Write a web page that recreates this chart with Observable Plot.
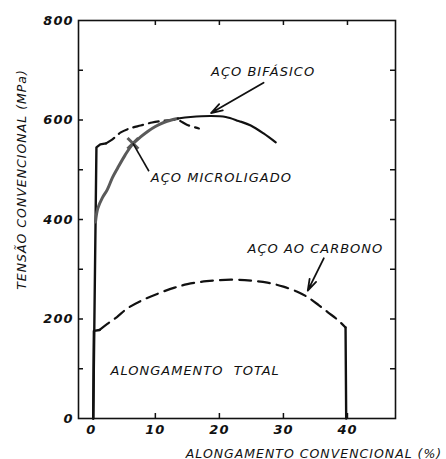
<!DOCTYPE html>
<html><head><meta charset="utf-8">
<script src="https://cdn.jsdelivr.net/npm/d3@7"></script>
<script src="https://cdn.jsdelivr.net/npm/@observablehq/plot@0.6"></script>
<style>body{margin:0;background:#fff} #chart svg{display:block}</style>
</head><body><div id="chart"></div>
<script>
// tick values
const xTicks = [0, 10, 20, 30, 40];
const yTicks = [0, 200, 400, 600, 800];
const xInner = [10, 20, 30, 40];
const yInner = [100, 200, 300, 400, 500, 600, 700];
const xDomain = [-2, 47.5];
const yDomain = [0, 800];

// Aço ao carbono
const carbonSolidStart = [[0.3, 0], [0.4, 176], [1.3, 178]];
const carbonDashed = [[1.3, 178], [2.5, 190], [4, 204], [5.7, 222], [8, 238], [10.4, 251], [13, 263], [15, 270], [18, 276], [21.8, 279], [25, 277], [27.5, 273], [30, 265], [32.5, 253], [34, 242], [35.5, 228], [37, 213], [38.5, 198], [39.7, 183]];
const carbonSolidEnd = [[39.7, 183], [39.8, 0]];

// curva com patamar de escoamento (tracejada)
const yieldSolid = [[0.3, 0], [0.8, 545], [1.4, 551], [2.3, 553]];
const yieldDashed = [[2.3, 553], [3.3, 561], [4.6, 575], [6, 583], [7.7, 589], [9.5, 595], [11, 598], [12.5, 600], [13.5, 600], [15, 590], [16.8, 583]];

// curva cinza contínua
const grayCurve = [[0.65, 395], [1.0, 422], [1.7, 443], [2.5, 460], [3.3, 484], [4.1, 503], [5.3, 530], [6.5, 552], [7.7, 566], [8.8, 577], [10, 587], [11.3, 595], [12.5, 600], [13.5, 603]];

// curva preta contínua (aço bifásico)
const blackCurve = [[13.5, 603], [15.5, 606], [18.7, 608], [21, 606], [23, 598], [24.9, 589], [26.9, 573], [28.8, 555]];

// marcador e anotações
const marker = [[6.5, 553]];
const labels = ["AÇO BIFÁSICO", "AÇO MICROLIGADO", "AÇO AO CARBONO", "ALONGAMENTO  TOTAL"];
const labelX = [18.7, 9.3, 24.4, 3.0];
const labelY = [697, 484, 342, 96];
const arrowFrom = [[26.9, 675], [36.3, 322]];
const arrowTo = [[18.7, 614], [33.8, 257]];
const leaderFrom = [[6.5, 553]];
const leaderTo = [[9, 497]];
const yTitle = "TENSÃO CONVENCIONAL (MPa)";
const xTitle = "ALONGAMENTO CONVENCIONAL (%)";

const annot = labels.map((t, i) => ({t, x: labelX[i], y: labelY[i]}));
const arrows = arrowFrom.map((a, i) => ({x1: a[0], y1: a[1], x2: arrowTo[i][0], y2: arrowTo[i][1]}));
const leaders = leaderFrom.map((a, i) => ({x1: a[0], y1: a[1], x2: leaderTo[i][0], y2: leaderTo[i][1]}));

const W = 446, H = 459, mL = 78, mR = 51, mT = 20, mB = 41, tickPx = 5;
const tx = tickPx * (xDomain[1] - xDomain[0]) / (W - mL - mR);
const ty = tickPx * (yDomain[1] - yDomain[0]) / (H - mT - mB);

const ink = "#111";
const chart = Plot.plot({
  width: W,
  height: H,
  marginLeft: mL,
  marginRight: mR,
  marginTop: mT,
  marginBottom: mB,
  style: "font: italic 13px 'DejaVu Sans'; letter-spacing: 1px; color: #111; background: #fff",
  x: {domain: xDomain},
  y: {domain: yDomain},
  marks: [
    Plot.frame({stroke: ink, strokeWidth: 1.6}),
    Plot.ruleX(xInner, {x: d => d, y1: yDomain[0], y2: yDomain[0] + ty, stroke: ink, strokeWidth: 1.5}),
    Plot.ruleX(xInner, {x: d => d, y1: yDomain[1] - ty, y2: yDomain[1], stroke: ink, strokeWidth: 1.5}),
    Plot.ruleY(yInner, {y: d => d, x1: xDomain[0], x2: xDomain[0] + tx, stroke: ink, strokeWidth: 1.5}),
    Plot.ruleY(yInner, {y: d => d, x1: xDomain[1] - tx, x2: xDomain[1], stroke: ink, strokeWidth: 1.5}),
    Plot.axisX(xTicks, {anchor: "bottom", tickSize: 0, tickPadding: 6, label: null, fontWeight: "bold"}),
    Plot.axisY(yTicks, {anchor: "left", tickSize: 0, tickPadding: 5, label: null, fontWeight: "bold"}),
    Plot.line(carbonSolidStart, {stroke: ink, strokeWidth: 2.4}),
    Plot.line(carbonDashed, {stroke: ink, strokeWidth: 2.2, strokeDasharray: "12,7", curve: "catmull-rom"}),
    Plot.line(carbonSolidEnd, {stroke: ink, strokeWidth: 2.4}),
    Plot.line(yieldSolid, {stroke: ink, strokeWidth: 2.4}),
    Plot.line(yieldDashed, {stroke: ink, strokeWidth: 2.2, strokeDasharray: "10,6", curve: "catmull-rom"}),
    Plot.line(grayCurve, {stroke: "#5a5a5a", strokeWidth: 3, curve: "catmull-rom"}),
    Plot.line(blackCurve, {stroke: ink, strokeWidth: 2.2, curve: "catmull-rom"}),
    Plot.dot(marker, {symbol: "times", r: 5, stroke: "#5a5a5a", strokeWidth: 3}),
    Plot.link(leaders, {x1: "x1", y1: "y1", x2: "x2", y2: "y2", stroke: ink, strokeWidth: 1.6}),
    Plot.arrow(arrows, {x1: "x1", y1: "y1", x2: "x2", y2: "y2", stroke: ink, strokeWidth: 1.8, headLength: 10, headAngle: 35}),
    Plot.text(annot, {x: "x", y: "y", text: "t", textAnchor: "start", fill: ink}),
    Plot.text([yTitle], {frameAnchor: "left", textAnchor: "middle", lineAnchor: "middle", rotate: -90, dx: -57, dy: -40, fill: ink, fontSize: 12.5}),
    Plot.text([xTitle], {frameAnchor: "bottom", textAnchor: "middle", lineAnchor: "middle", dx: 77, dy: 35, fill: ink, fontSize: 12.5})
  ]
});
document.getElementById("chart").append(chart);
</script></body></html>
